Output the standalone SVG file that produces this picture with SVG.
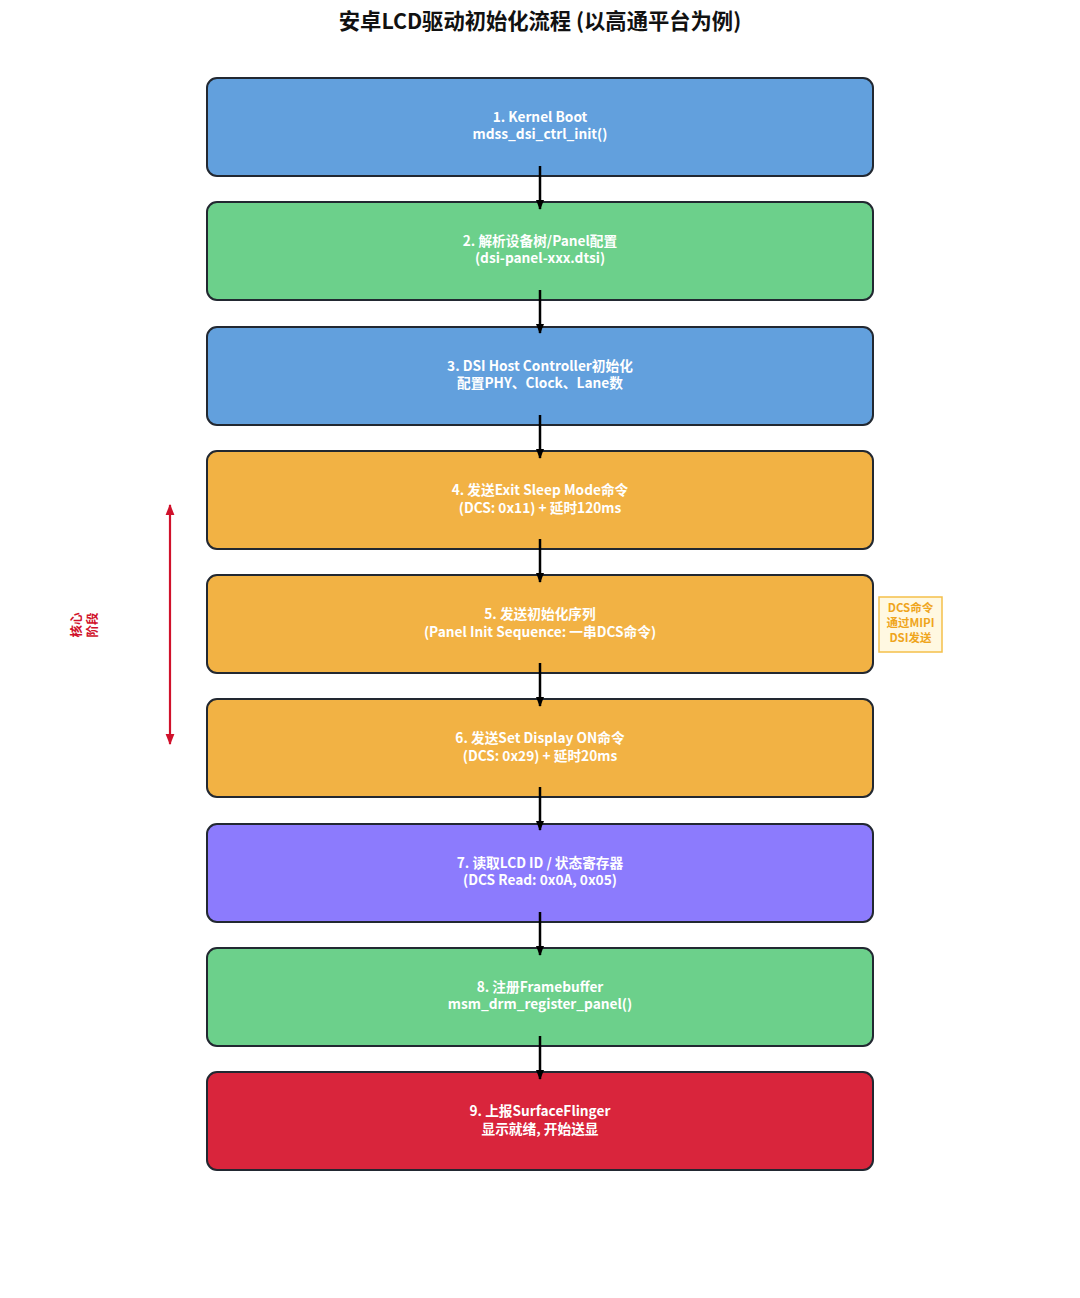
<svg xmlns="http://www.w3.org/2000/svg" width="1080" height="1298" viewBox="0 0 1080 1298">
<style>
text{font-family:"Noto Sans CJK SC","Noto Sans",sans-serif;font-weight:bold}
.box{stroke:#222831;stroke-width:2}
.lbl{fill:#ffffff;font-size:13.7px;text-anchor:middle}
.blue{fill:#62A0DD}.green{fill:#6CD08B}.orange{fill:#F2B244}.purple{fill:#8C7BFD}.red{fill:#D9253C}
.conn{stroke:#000;stroke-width:2.5;fill:none}
</style>
<defs>
<marker id="ah" viewBox="0 0 10 10" refX="9" refY="5" markerWidth="4" markerHeight="4" orient="auto"><path d="M0,1 L10,5 L0,9 Z" fill="#000"/></marker>
<marker id="rh" viewBox="0 0 10 10" refX="9" refY="5" markerWidth="5" markerHeight="5" orient="auto-start-reverse"><path d="M0,1 L10,5 L0,9 Z" fill="#D0112B"/></marker>
</defs>
<rect width="1080" height="1298" fill="#ffffff"/>
<text x="540" y="29" font-size="21.3" text-anchor="middle" fill="#111">安卓LCD驱动初始化流程 (以高通平台为例)</text>
<g id="n1"><rect class="box blue" x="207" y="78" width="666" height="98" rx="10"/><text class="lbl" x="540" y="122">1. Kernel Boot</text><text class="lbl" x="540" y="139">mdss_dsi_ctrl_init()</text></g>
<g id="n2"><rect class="box green" x="207" y="202" width="666" height="98" rx="10"/><text class="lbl" x="540" y="246">2. 解析设备树/Panel配置</text><text class="lbl" x="540" y="263">(dsi-panel-xxx.dtsi)</text></g>
<g id="n3"><rect class="box blue" x="207" y="327" width="666" height="98" rx="10"/><text class="lbl" x="540" y="371">3. DSI Host Controller初始化</text><text class="lbl" x="540" y="388">配置PHY、Clock、Lane数</text></g>
<g id="n4"><rect class="box orange" x="207" y="451" width="666" height="98" rx="10"/><text class="lbl" x="540" y="495">4. 发送Exit Sleep Mode命令</text><text class="lbl" x="540" y="513">(DCS: 0x11) + 延时120ms</text></g>
<g id="n5"><rect class="box orange" x="207" y="575" width="666" height="98" rx="10"/><text class="lbl" x="540" y="619">5. 发送初始化序列</text><text class="lbl" x="540" y="637">(Panel Init Sequence: 一串DCS命令)</text></g>
<g id="n6"><rect class="box orange" x="207" y="699" width="666" height="98" rx="10"/><text class="lbl" x="540" y="743">6. 发送Set Display ON命令</text><text class="lbl" x="540" y="761">(DCS: 0x29) + 延时20ms</text></g>
<g id="n7"><rect class="box purple" x="207" y="824" width="666" height="98" rx="10"/><text class="lbl" x="540" y="868">7. 读取LCD ID / 状态寄存器</text><text class="lbl" x="540" y="885">(DCS Read: 0x0A, 0x05)</text></g>
<g id="n8"><rect class="box green" x="207" y="948" width="666" height="98" rx="10"/><text class="lbl" x="540" y="992">8. 注册Framebuffer</text><text class="lbl" x="540" y="1009">msm_drm_register_panel()</text></g>
<g id="n9"><rect class="box red" x="207" y="1072" width="666" height="98" rx="10"/><text class="lbl" x="540" y="1116">9. 上报SurfaceFlinger</text><text class="lbl" x="540" y="1134">显示就绪, 开始送显</text></g>
<g id="connectors">
<line class="conn" x1="540" y1="166" x2="540" y2="209" marker-end="url(#ah)"/>
<line class="conn" x1="540" y1="290" x2="540" y2="333" marker-end="url(#ah)"/>
<line class="conn" x1="540" y1="415" x2="540" y2="458" marker-end="url(#ah)"/>
<line class="conn" x1="540" y1="539" x2="540" y2="582" marker-end="url(#ah)"/>
<line class="conn" x1="540" y1="663" x2="540" y2="706" marker-end="url(#ah)"/>
<line class="conn" x1="540" y1="787" x2="540" y2="830" marker-end="url(#ah)"/>
<line class="conn" x1="540" y1="912" x2="540" y2="955" marker-end="url(#ah)"/>
<line class="conn" x1="540" y1="1036" x2="540" y2="1079" marker-end="url(#ah)"/>
</g>
<g id="core-stage">
<line x1="170" y1="505" x2="170" y2="744" stroke="#D0112B" stroke-width="2.2" marker-start="url(#rh)" marker-end="url(#rh)"/>
<text transform="translate(84,625) rotate(-90)" font-size="12.5" fill="#D0112B" text-anchor="middle"><tspan x="0" y="-3">核心</tspan><tspan x="0" y="13">阶段</tspan></text>
</g>
<g id="note">
<rect x="879" y="597" width="63" height="55" fill="#FFF8E1" stroke="#F5C04A" stroke-width="1.5"/>
<text x="910.500" y="612" font-size="11.5" fill="#EFA51C" text-anchor="middle">DCS命令</text>
<text x="910.500" y="627" font-size="11.5" fill="#EFA51C" text-anchor="middle">通过MIPI</text>
<text x="910.500" y="642" font-size="11.5" fill="#EFA51C" text-anchor="middle">DSI发送</text>
</g>
</svg>
